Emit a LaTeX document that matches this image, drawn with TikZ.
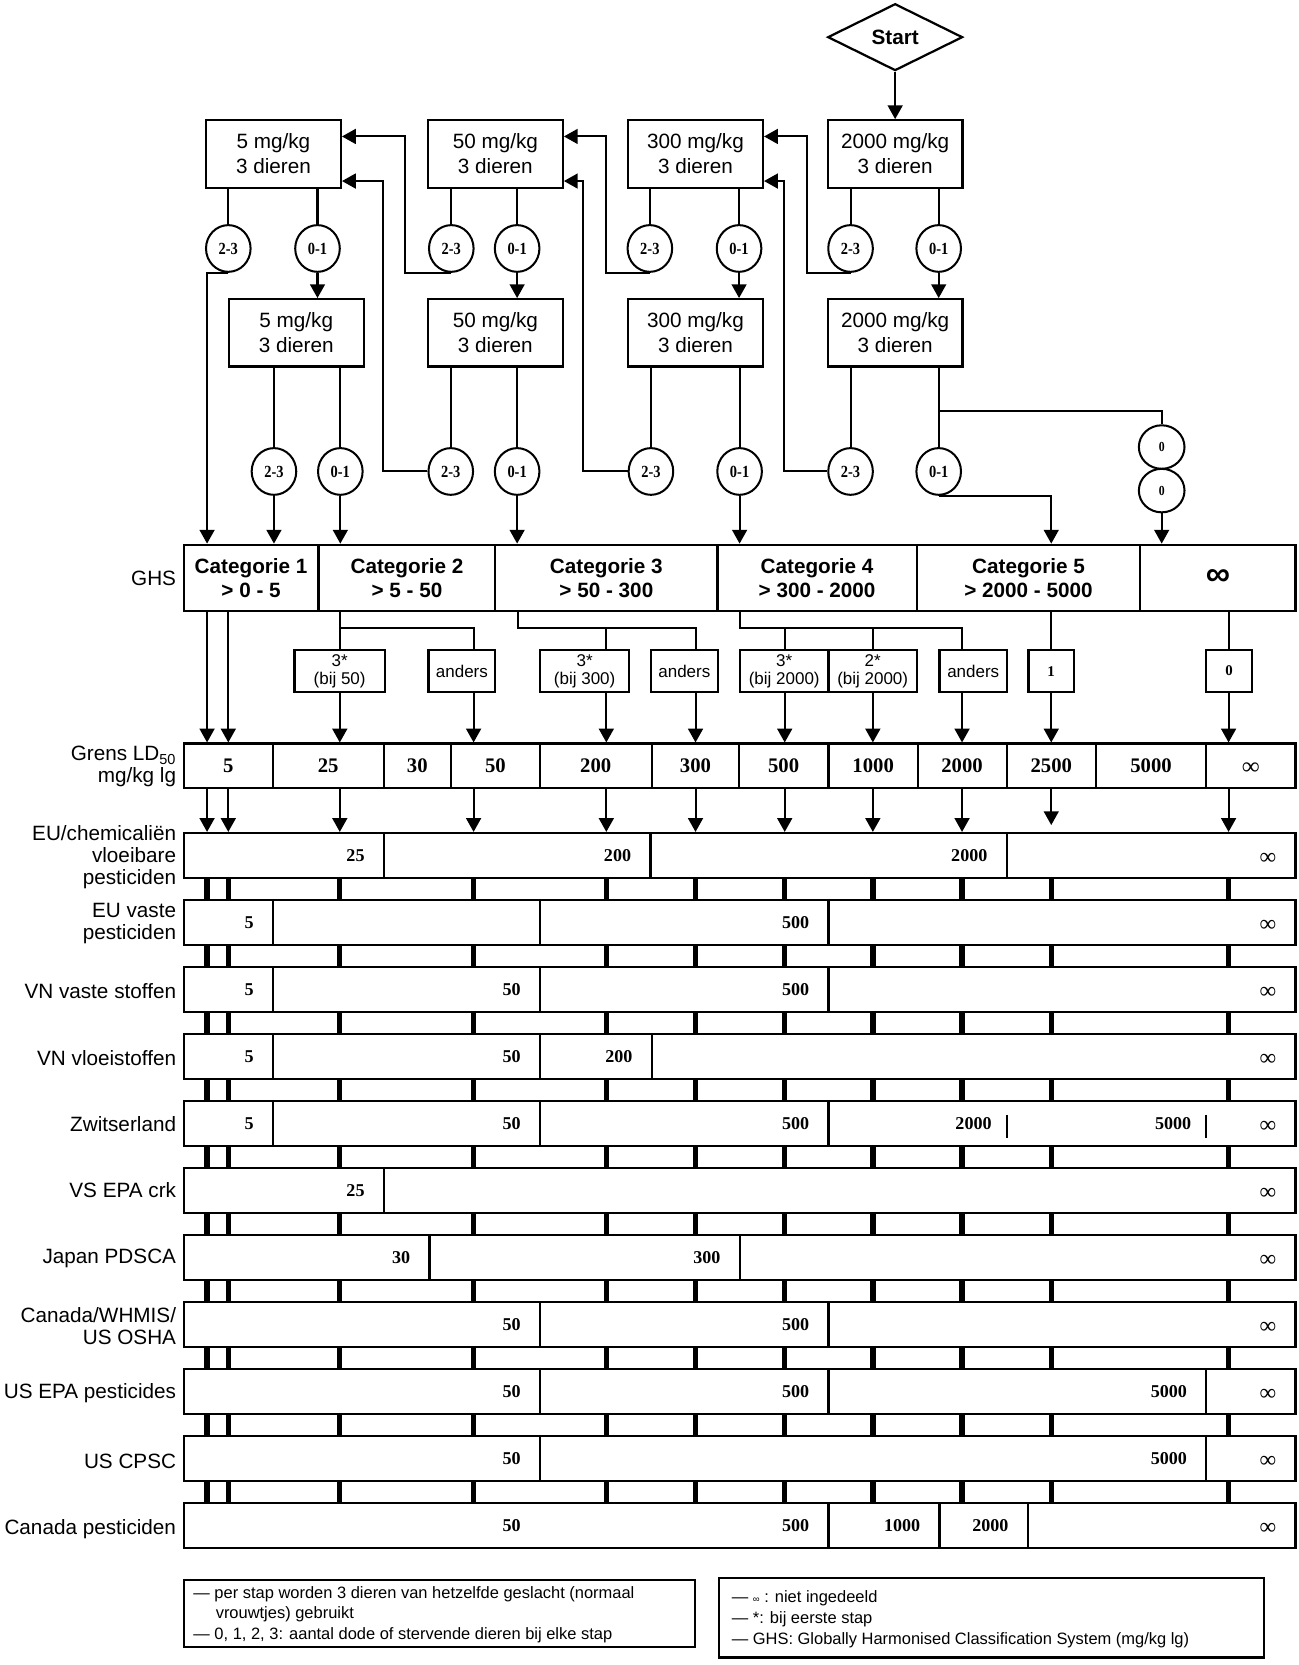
\documentclass[tikz,border=0pt]{standalone}
\usepackage{fontspec}
\usepackage{graphicx}
\setmainfont{Liberation Sans}
\newfontfamily\serifnum[FakeStretch=0.85]{Liberation Serif}
\newfontfamily\serifval{Liberation Serif}
\usetikzlibrary{shapes.geometric,arrows.meta,calc}

\tikzset{
 conn/.style={line width=1.9pt},
 arr/.style={line width=1.9pt, -{Triangle[length=13pt,width=14pt]}},
 startshape/.style={draw, diamond, aspect=2.3, line width=2.1pt, minimum width=127pt, minimum height=63pt, inner sep=0pt, font=\bfseries\fontsize{19.5}{19.5}\selectfont},
 dosebox/.style={draw, line width=2.1pt, minimum width=127pt, minimum height=63.5pt, inner sep=0pt, align=center, font=\fontsize{19.5}{23.5}\selectfont},
 outcome/.style={draw, ellipse, line width=1.9pt, minimum width=42pt, minimum height=44pt, inner sep=0pt, font=\serifnum\bfseries\fontsize{16}{16}\selectfont},
 zero/.style={draw, ellipse, line width=1.9pt, minimum width=43pt, minimum height=41pt, inner sep=0pt, font=\serifnum\bfseries\fontsize{13}{13}\selectfont},
 ghscell/.style={draw, line width=2.1pt, minimum height=62.5pt, inner sep=0pt, align=center, font=\bfseries\fontsize{19.5}{23}\selectfont},
 smallbox/.style={draw, line width=2.1pt, minimum height=40pt, inner sep=0pt, align=center, font=\fontsize{16}{16.5}\selectfont},
 rowbox/.style={draw, line width=2.1pt, minimum height=42pt, minimum width=1047pt, inner sep=0pt},
 lab/.style={anchor=east, align=right, inner sep=0pt, font=\fontsize{19.5}{20.5}\selectfont},
 val/.style={anchor=east, inner sep=0pt, font=\serifval\bfseries\fontsize{17}{17}\selectfont},
 infval/.style={anchor=east, inner sep=0pt, yshift=-3pt, font=\serifval\fontsize{22}{22}\selectfont},
 gval/.style={inner sep=0pt, font=\serifval\bfseries\fontsize{19.5}{19.5}\selectfont},
 legtext/.style={anchor=base west, inner sep=0pt, font=\fontsize{15.5}{19}\selectfont},
 bar/.style={line width=5pt},
 divl/.style={line width=2.1pt},
}
\newcommand\dv[2]{\draw[divl] (#2,0 |- #1.north) -- (#2,0 |- #1.south);}
\newcommand\tv[4]{\node[val] (#1) at ({#3-18},0 |- #2.center) {#4};}
\newcommand\tvinf[2]{\node[infval] (#1) at (1202,0 |- #2.center) {∞};}

\begin{document}
\begin{tikzpicture}[x=1pt,y=-1pt]
\useasboundingbox (0,0) rectangle (1223,1568);
\fill[white] (0,0) rectangle (1223,1568);

% ---------- flow part ----------
\node[startshape] (start) at (843,35) {Start};

\node[dosebox] (k5a)    at (257.5,145) {5 mg/kg\\3 dieren};
\node[dosebox] (k50a)   at (466.5,145) {50 mg/kg\\3 dieren};
\node[dosebox] (k300a)  at (655,145)   {300 mg/kg\\3 dieren};
\node[dosebox] (k2000a) at (843,145)   {2000 mg/kg\\3 dieren};

\node[dosebox] (k5b)    at (279,313.5)   {5 mg/kg\\3 dieren};
\node[dosebox] (k50b)   at (466.5,313.5) {50 mg/kg\\3 dieren};
\node[dosebox] (k300b)  at (655,313.5)   {300 mg/kg\\3 dieren};
\node[dosebox] (k2000b) at (843,313.5)   {2000 mg/kg\\3 dieren};

\draw[arr] (start.south) -- (k2000a.north);

\foreach \n/\x/\t in {a1/215/2-3, a2/299/0-1, a3/425/2-3, a4/487/0-1, a5/612/2-3, a6/696/0-1, a7/801/2-3, a8/884/0-1}
  \node[outcome] (\n) at (\x,234) {\t};
\foreach \n/\x/\t in {b1/258/2-3, b2/320.5/0-1, b3/424.5/2-3, b4/487/0-1, b5/613/2-3, b6/696.5/0-1, b7/801/2-3, b8/884/0-1}
  \node[outcome] (\n) at (\x,444) {\t};

\node[zero] (z1) at (1094,421) {0};
\node[zero] (z2) at (1094,462) {0};

\foreach \c/\k in {a1/k5a,a2/k5a,a3/k50a,a4/k50a,a5/k300a,a6/k300a,a7/k2000a,a8/k2000a,
                   b1/k5b,b2/k5b,b3/k50b,b4/k50b,b5/k300b,b6/k300b,b7/k2000b,b8/k2000b}
  \draw[conn] (\c |- \k.south) -- (\c.north);

\foreach \c/\k in {a2/k5b,a4/k50b,a6/k300b,a8/k2000b}
  \draw[arr] (\c.south) -- (\c |- \k.north);

\coordinate (v1) at (381.5,128.5);
\coordinate (v2) at (571,128.5);
\coordinate (v3) at (760,128.5);
\coordinate (w1) at (361,170.5);
\coordinate (w2) at (549,170.5);
\coordinate (w3) at (738,170.5);
\draw[arr] (a3.south) -| (v1) -- (v1 -| k5a.east);
\draw[arr] (a5.south) -| (v2) -- (v2 -| k50a.east);
\draw[arr] (a7.south) -| (v3) -- (v3 -| k300a.east);
\draw[arr] (b3.west) -| (w1) -- (w1 -| k5a.east);
\draw[arr] (b5.west) -| (w2) -- (w2 -| k50a.east);
\draw[arr] (b7.west) -| (w3) -- (w3 -| k300a.east);

% ---------- GHS ----------
\node[ghscell, minimum width=127pt]   (ghs1) at (236.5,544.25)  {Categorie 1\\> 0 - 5};
\node[ghscell, minimum width=166.5pt] (ghs2) at (383.25,544.25) {Categorie 2\\> 5 - 50};
\node[ghscell, minimum width=209.1pt] (ghs3) at (571.05,544.25) {Categorie 3\\> 50 - 300};
\node[ghscell, minimum width=187.8pt] (ghs4) at (769.5,544.25)  {Categorie 4\\> 300 - 2000};
\node[ghscell, minimum width=210.4pt] (ghs5) at (968.6,544.25)  {Categorie 5\\> 2000 - 5000};
\node[ghscell, minimum width=146.2pt, font=\bfseries\fontsize{32}{32}\selectfont] (ghs6) at (1146.9,544.25) {∞};
\node[lab] (lghs) at (166,545) {GHS};

% Grens row
\node[rowbox] (grens) at (696.5,721.25) {};
\foreach \n/\x in {p1/195,p2/215,p3/320,p4/446,p5/571,p6/655,p7/739,p8/822,p9/906,p10/990,p11/1157}
  \coordinate (\n) at (\x,0 |- grens.north);

\draw[arr] (a1.south) -| (p1 |- ghs1.north);
\draw[arr] (b1.south) -- (b1 |- ghs1.north);
\draw[arr] (b2.south) -- (b2 |- ghs2.north);
\draw[arr] (b4.south) -- (b4 |- ghs3.north);
\draw[arr] (b6.south) -- (b6 |- ghs4.north);
\draw[arr] (b8.south) -| (p10 |- ghs5.north);
\coordinate (zb) at (884,387);
\draw[conn] (zb) -| (z1.north);
\draw[arr] (z2.south) -- (z2 |- ghs6.north);

% small boxes
\node[smallbox, minimum width=84.9pt] (sb1) at (319.85,632) {3*\\(bij 50)};
\node[smallbox, minimum width=63pt]   (sb2) at (435,632)    {anders};
\node[smallbox, minimum width=84.2pt] (sb3) at (550.6,632)  {3*\\(bij 300)};
\node[smallbox, minimum width=63pt]   (sb4) at (644.5,632)  {anders};
\node[smallbox, minimum width=83.5pt] (sb5) at (738.55,632) {3*\\(bij 2000)};
\node[smallbox, minimum width=83.1pt] (sb6) at (821.85,632) {2*\\(bij 2000)};
\node[smallbox, minimum width=63.5pt] (sb7) at (916.55,632) {anders};
\node[smallbox, minimum width=42.7pt, font=\serifval\bfseries\fontsize{14}{14}\selectfont] (sb8) at (989.95,632) {1};
\node[smallbox, minimum width=42.8pt, font=\serifval\bfseries\fontsize{14}{14}\selectfont] (sb9) at (1157.4,632) {0};

\coordinate (h2) at (320,591);
\coordinate (h3) at (487.6,591);
\coordinate (h4) at (696.8,591);
\draw[conn] (p3 |- ghs2.south) -- (p3 |- sb1.north);
\draw[conn] (h2) -| (p4 |- sb2.north);
\draw[conn] (h3 |- ghs3.south) -- (h3) -| (p6 |- sb4.north);
\draw[conn] (h3 -| p5) -- (p5 |- sb3.north);
\draw[conn] (h4 |- ghs4.south) -- (h4) -| (p9 |- sb7.north);
\draw[conn] (h4 -| p7) -- (p7 |- sb5.north);
\draw[conn] (h4 -| p8) -- (p8 |- sb6.north);
\draw[conn] (p10 |- ghs5.south) -- (p10 |- sb8.north);
\draw[conn] (p11 |- ghs6.south) -- (p11 |- sb9.north);

\draw[arr] (p1 |- ghs1.south) -- (p1);
\draw[arr] (p2 |- ghs1.south) -- (p2);
\draw[arr] (p3 |- sb1.south) -- (p3);
\draw[arr] (p4 |- sb2.south) -- (p4);
\draw[arr] (p5 |- sb3.south) -- (p5);
\draw[arr] (p6 |- sb4.south) -- (p6);
\draw[arr] (p7 |- sb5.south) -- (p7);
\draw[arr] (p8 |- sb6.south) -- (p8);
\draw[arr] (p9 |- sb7.south) -- (p9);
\draw[arr] (p10 |- sb8.south) -- (p10);
\draw[arr] (p11 |- sb9.south) -- (p11);

\foreach \x in {257,361.5,424.5,508.5,613.7,695.8,780.3,864.3,948,1032,1136}
  \draw[divl] (\x,0 |- grens.north) -- (\x,0 |- grens.south);
\foreach \n/\x/\t in {g1/215/5, g2/309/25, g3/393/30, g4/466.5/50, g5/561/200, g6/655/300, g7/738/500, g8/822.3/1000, g9/906/2000, g10/990/2500, g11/1084/5000}
  \node[gval] (\n) at (\x,721) {\t};
\node[gval, font=\serifval\bfseries\fontsize{23}{23}\selectfont] (g12) at (1178,724) {∞};
\node[lab] (lgrens) at (166,722) {Grens LD\textsubscript{50}\\mg/kg lg};

% ---------- table rows ----------
\foreach \i in {1,...,11}
  \node[rowbox] (r\i) at (696.5,{784.5+63.1*(\i-1)+21}) {};

\foreach \x in {195,215,320,446,571,655,739,822,906,1157}
  \draw[arr] (\x,0 |- grens.south) -- (\x,0 |- r1.north);
\coordinate (e2500) at (990,777);
\draw[arr] (p10 |- grens.south) -- (e2500);

\foreach \i [count=\j from 2] in {1,...,10}
  \foreach \x in {195,215,320,446,571,655,739,822,906,990,1157}
    \draw[bar] (\x,0 |- r\i.south) -- (\x,0 |- r\j.north);

% row 1 EU/chem
\dv{r1}{361.5}\dv{r1}{612.5}\dv{r1}{948}
\tv{r1a}{r1}{361.5}{25}\tv{r1b}{r1}{612.5}{200}\tv{r1c}{r1}{948}{2000}\tvinf{r1d}{r1}
% row 2 EU vaste
\dv{r2}{257}\dv{r2}{508.5}\dv{r2}{780.3}
\tv{r2a}{r2}{257}{5}\tv{r2c}{r2}{780.3}{500}\tvinf{r2d}{r2}
% row 3 VN vaste
\dv{r3}{257}\dv{r3}{508.5}\dv{r3}{780.3}
\tv{r3a}{r3}{257}{5}\tv{r3b}{r3}{508.5}{50}\tv{r3c}{r3}{780.3}{500}\tvinf{r3d}{r3}
% row 4 VN vloei
\dv{r4}{257}\dv{r4}{508.5}\dv{r4}{613.7}
\tv{r4a}{r4}{257}{5}\tv{r4b}{r4}{508.5}{50}\tv{r4c}{r4}{613.7}{200}\tvinf{r4d}{r4}
% row 5 Zwitserland
\dv{r5}{257}\dv{r5}{508.5}\dv{r5}{780.3}
\tv{r5a}{r5}{257}{5}\tv{r5b}{r5}{508.5}{50}\tv{r5c}{r5}{780.3}{500}
\tv{r5e}{r5}{952}{2000}\tv{r5f}{r5}{1140}{5000}\tvinf{r5d}{r5}
\draw[divl] (948,1050) -- (948,1072);
\draw[divl] (1136,1050) -- (1136,1072);
% row 6 VS EPA crk
\dv{r6}{361.5}
\tv{r6a}{r6}{361.5}{25}\tvinf{r6d}{r6}
% row 7 Japan
\dv{r7}{404.4}\dv{r7}{696.7}
\tv{r7a}{r7}{404.4}{30}\tv{r7b}{r7}{696.7}{300}\tvinf{r7d}{r7}
% row 8 Canada/WHMIS
\dv{r8}{508.5}\dv{r8}{780.3}
\tv{r8a}{r8}{508.5}{50}\tv{r8b}{r8}{780.3}{500}\tvinf{r8d}{r8}
% row 9 US EPA pesticides
\dv{r9}{508.5}\dv{r9}{780.3}\dv{r9}{1136}
\tv{r9a}{r9}{508.5}{50}\tv{r9b}{r9}{780.3}{500}\tv{r9c}{r9}{1136}{5000}\tvinf{r9d}{r9}
% row 10 US CPSC
\dv{r10}{508.5}\dv{r10}{1136}
\tv{r10a}{r10}{508.5}{50}\tv{r10c}{r10}{1136}{5000}\tvinf{r10d}{r10}
% row 11 Canada pesticiden
\dv{r11}{780.3}\dv{r11}{884.8}\dv{r11}{967.8}
\tv{r11a}{r11}{508.5}{50}\tv{r11b}{r11}{780.3}{500}\tv{r11c}{r11}{884.8}{1000}\tv{r11e}{r11}{967.8}{2000}\tvinf{r11d}{r11}

% row labels
\node[lab] (l1)  at (166,807)    {EU/chemicaliën\\vloeibare\\pesticiden};
\node[lab] (l2)  at (166,869.5)  {EU vaste\\pesticiden};
\node[lab] (l3)  at (166,933)    {VN vaste stoffen};
\node[lab] (l4)  at (166,996)    {VN vloeistoffen};
\node[lab] (l5)  at (166,1058.5) {Zwitserland};
\node[lab] (l6)  at (166,1121)   {VS EPA crk};
\node[lab] (l7)  at (166,1185)   {Japan PDSCA};
\node[lab] (l8)  at (166,1248.5) {Canada/WHMIS/\\US OSHA};
\node[lab] (l9)  at (166,1311.5) {US EPA pesticides};
\node[lab] (l10) at (166,1376)   {US CPSC};
\node[lab] (l11) at (166,1440)   {Canada pesticiden};

% ---------- legends ----------
\node[draw, line width=2.1pt, minimum width=481.8pt, minimum height=63.2pt, inner sep=0pt] (leg1) at (413.9,1519.2) {};
\node[legtext] (leg1a) at (182,1505.5) {— per stap worden 3 dieren van hetzelfde geslacht (normaal};
\node[legtext] (leg1b) at (203,1524.5) {vrouwtjes) gebruikt};
\node[legtext] (leg1c) at (182,1543.5) {— 0, 1, 2, 3: aantal dode of stervende dieren bij elke stap};

\node[draw, line width=2.1pt, minimum width=512.6pt, minimum height=75pt, inner sep=0pt] (leg2) at (933.7,1523.5) {};
\node[legtext] (leg2a) at (689,1509.5) {— {\fontsize{9}{9}\selectfont ∞} : niet ingedeeld};
\node[legtext] (leg2b) at (689,1529)   {— *: bij eerste stap};
\node[legtext] (leg2c) at (689,1548.5) {— GHS: Globally Harmonised Classification System (mg/kg lg)};
\end{tikzpicture}
\end{document}
